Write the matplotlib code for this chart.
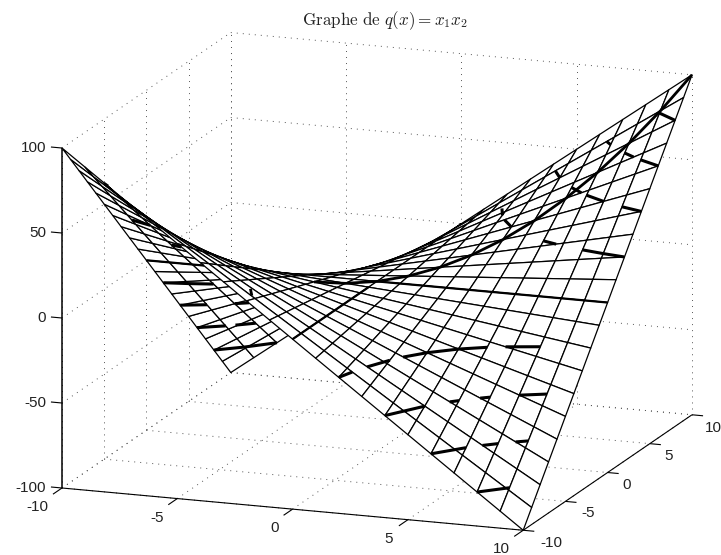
import matplotlib
matplotlib.use('Agg')
import numpy as np
import matplotlib.pyplot as plt
from mpl_toolkits.mplot3d import proj3d

plt.rcParams['font.family'] = ['Liberation Sans', 'DejaVu Sans']
plt.rcParams['mathtext.fontset'] = 'cm'

# mesh nodes
x_vals = [-10, -9, -8, -7, -6, -5, -4, -3, -2, -1, 0, 1, 2, 3, 4, 5, 6, 7, 8, 9, 10]
y_vals = [-10, -9, -8, -7, -6, -5, -4, -3, -2, -1, 0, 1, 2, 3, 4, 5, 6, 7, 8, 9, 10]
z_rows = [
    [100, 90, 80, 70, 60, 50, 40, 30, 20, 10, 0, -10, -20, -30, -40, -50, -60, -70, -80, -90, -100],
    [90, 81, 72, 63, 54, 45, 36, 27, 18, 9, 0, -9, -18, -27, -36, -45, -54, -63, -72, -81, -90],
    [80, 72, 64, 56, 48, 40, 32, 24, 16, 8, 0, -8, -16, -24, -32, -40, -48, -56, -64, -72, -80],
    [70, 63, 56, 49, 42, 35, 28, 21, 14, 7, 0, -7, -14, -21, -28, -35, -42, -49, -56, -63, -70],
    [60, 54, 48, 42, 36, 30, 24, 18, 12, 6, 0, -6, -12, -18, -24, -30, -36, -42, -48, -54, -60],
    [50, 45, 40, 35, 30, 25, 20, 15, 10, 5, 0, -5, -10, -15, -20, -25, -30, -35, -40, -45, -50],
    [40, 36, 32, 28, 24, 20, 16, 12, 8, 4, 0, -4, -8, -12, -16, -20, -24, -28, -32, -36, -40],
    [30, 27, 24, 21, 18, 15, 12, 9, 6, 3, 0, -3, -6, -9, -12, -15, -18, -21, -24, -27, -30],
    [20, 18, 16, 14, 12, 10, 8, 6, 4, 2, 0, -2, -4, -6, -8, -10, -12, -14, -16, -18, -20],
    [10, 9, 8, 7, 6, 5, 4, 3, 2, 1, 0, -1, -2, -3, -4, -5, -6, -7, -8, -9, -10],
    [0, 0, 0, 0, 0, 0, 0, 0, 0, 0, 0, 0, 0, 0, 0, 0, 0, 0, 0, 0, 0],
    [-10, -9, -8, -7, -6, -5, -4, -3, -2, -1, 0, 1, 2, 3, 4, 5, 6, 7, 8, 9, 10],
    [-20, -18, -16, -14, -12, -10, -8, -6, -4, -2, 0, 2, 4, 6, 8, 10, 12, 14, 16, 18, 20],
    [-30, -27, -24, -21, -18, -15, -12, -9, -6, -3, 0, 3, 6, 9, 12, 15, 18, 21, 24, 27, 30],
    [-40, -36, -32, -28, -24, -20, -16, -12, -8, -4, 0, 4, 8, 12, 16, 20, 24, 28, 32, 36, 40],
    [-50, -45, -40, -35, -30, -25, -20, -15, -10, -5, 0, 5, 10, 15, 20, 25, 30, 35, 40, 45, 50],
    [-60, -54, -48, -42, -36, -30, -24, -18, -12, -6, 0, 6, 12, 18, 24, 30, 36, 42, 48, 54, 60],
    [-70, -63, -56, -49, -42, -35, -28, -21, -14, -7, 0, 7, 14, 21, 28, 35, 42, 49, 56, 63, 70],
    [-80, -72, -64, -56, -48, -40, -32, -24, -16, -8, 0, 8, 16, 24, 32, 40, 48, 56, 64, 72, 80],
    [-90, -81, -72, -63, -54, -45, -36, -27, -18, -9, 0, 9, 18, 27, 36, 45, 54, 63, 72, 81, 90],
    [-100, -90, -80, -70, -60, -50, -40, -30, -20, -10, 0, 10, 20, 30, 40, 50, 60, 70, 80, 90, 100],
]

# visible bits of the level curves: (xs, ys, level)
level_pieces = [
    ([8, 9], [-10, -8.89], -80),
    ([-10, -9, -8], [8, 8.89, 10], -80),
    ([6, 7], [-10, -8.57], -60),
    ([7.5, 8], [-8, -7.5], -60),
    ([8.57, 9], [-7, -6.67], -60),
    ([-10, -9], [6, 6.67], -60),
    ([-8.67, -8], [6.92, 7.5], -60),
    ([4, 5], [-10, -8], -40),
    ([5.71, 6], [-7, -6.67], -40),
    ([6.67, 7], [-6, -5.71], -40),
    ([8, 9], [-5, -4.44], -40),
    ([-10, -9], [4, 4.44], -40),
    ([-8, -7.5], [5, 5.33], -40),
    ([2, 2.22], [-10, -9], -20),
    ([2.5, 3], [-8, -6.67], -20),
    ([3.33, 4, 5, 6], [-6, -5, -4, -3.33], -20),
    ([6.67, 8], [-3, -2.5], -20),
    ([-10, -9, -8], [2, 2.22, 2.5], -20),
    ([-8, -7.5], [-2.5, -2.67], 20),
    ([2.6, 3], [7.7, 6.67], 20),
    ([3.33, 4], [6, 5], 20),
    ([6, 6.67], [3.33, 3], 20),
    ([8, 9, 10], [2.5, 2.22, 2], 20),
    ([-9, -8], [-4.44, -5], 40),
    ([4.44, 5], [9, 8], 40),
    ([6, 6.67], [6.67, 6], 40),
    ([7, 8], [5.71, 5], 40),
    ([9, 10], [4.44, 4], 40),
    ([6.67, 7], [9, 8.57], 60),
    ([8, 8.57], [7.5, 7], 60),
    ([9, 10], [6.67, 6], 60),
    ([-8.33, -8], [-9.6, -10], 80),
    ([8.94, 10], [8.94, 8], 80),
]
zero_pieces = [
    ([-10, -7.5], [0, 0]),
    ([0, 10], [0, 0]),
    ([0, 0], [-10, -1]),
]
diag_vals = [-2, -1, 0, 1, 2, 3, 4, 5, 6, 7, 8, 9, 10]
diag_z = [4, 1, 0, 1, 4, 9, 16, 25, 36, 49, 64, 81, 100]
mark_x = [-6.85, -7.12]
mark_y = [3.72, 4.63]
mark_z = [-25.5, -33]

xticks = [-10, -5, 0, 5, 10]
yticks = [-10, -5, 0, 5, 10]
zticks = [-100, -50, 0, 50, 100]

W, H = 721, 555
fig = plt.figure(figsize=(W / 100, H / 100), dpi=100)
ax = fig.add_axes([0, 0, 1, 1], projection='3d', proj_type='ortho')
ax.view_init(elev=14.5, azim=-69.9)
ax.set_box_aspect((1, 1, 0.715))
ax.set_xlim(-10, 10)
ax.set_ylim(-10, 10)
ax.set_zlim(-100, 100)
ax.set_axis_off()
ax.computed_zorder = False


def to2d(x, y, z):
    u, v, _ = proj3d.proj_transform(x, y, z, ax.get_proj())
    return u, v


# put the box where it sits in the picture (pixels: 62,488 and 692,413)
u1, v1 = to2d(-10, -10, -100)
u2, v2 = to2d(10, 10, -100)
xr = ax.viewLim.x1 - ax.viewLim.x0
yr = ax.viewLim.y1 - ax.viewLim.y0
S = (692 - 62) / ((u2 - u1) / xr)
left = 62 - (u1 - ax.viewLim.x0) / xr * S
bottom = (H - 488) - (v1 - ax.viewLim.y0) / yr * S
ax.set_position([left / W, bottom / H, S / W, S / H])

grid_style = dict(color='#555555', lw=0.7, ls=(0, (1, 5.2)), zorder=1)
axis_style = dict(color='black', lw=0.8, zorder=2, solid_capstyle='butt')

# floor and the two back walls
for t in xticks:
    ax.plot([t, t], [-10, 10], [-100, -100], **grid_style)
    ax.plot([t, t], [10, 10], [-100, 100], **grid_style)
for t in yticks:
    ax.plot([-10, 10], [t, t], [-100, -100], **grid_style)
    ax.plot([-10, -10], [t, t], [-100, 100], **grid_style)
for t in zticks:
    ax.plot([-10, 10], [10, 10], [t, t], **grid_style)
    ax.plot([-10, -10], [-10, 10], [t, t], **grid_style)

# axis lines and ticks
ax.plot([-10, -10], [-10, -10], [-100, 100], color='black', lw=1.1, zorder=2, solid_capstyle='butt')
ax.plot([-10, 10], [-10, -10], [-100, -100], **axis_style)
ax.plot([10, 10], [-10, 10], [-100, -100], **axis_style)
for t in xticks:
    ax.plot([t, t], [-10, -11.07], [-100, -100], **axis_style)
for t in yticks:
    ax.plot([10, 10.48], [t, t], [-100, -100], **axis_style)
for t in zticks:
    ax.plot([-10, -10.48], [-10, -10], [t, t], **axis_style)

X, Y = np.meshgrid(x_vals, y_vals)
Z = np.array(z_rows, dtype=float)
ax.plot_surface(X, Y, Z, rstride=1, cstride=1, color='white', edgecolor='black',
                linewidth=0.9, shade=False, zorder=3)

for xs, ys, level in level_pieces:
    ax.plot(xs, ys, [level] * len(xs), color='black', lw=2.2, zorder=4, solid_capstyle='butt')
for xs, ys in zero_pieces:
    ax.plot(xs, ys, [0, 0], color='black', lw=1.6, zorder=4, solid_capstyle='butt')
ax.plot(diag_vals, diag_vals, diag_z, color='black', lw=2.0, zorder=4, solid_capstyle='butt')
ax.plot(mark_x, mark_y, mark_z, color='black', lw=2.0, zorder=4, solid_capstyle='butt')

# tick labels, offsets in pixels from the tick base
x_off = [(-25, -19), (-20, -19), (-17.5, -19), (-19, -19), (-22, -19)]
y_off = [(28, -13), (23, -12), (19.5, -12), (19, -12), (21, -13)]
for t, off in zip(xticks, x_off):
    ax.annotate(str(t), to2d(t, -10, -100), xytext=off, textcoords='offset pixels', fontsize=11,
                color='#222222', ha='center', va='center', annotation_clip=False)
for t, off in zip(yticks, y_off):
    ax.annotate(str(t), to2d(10, t, -100), xytext=off, textcoords='offset pixels', fontsize=11,
                color='#222222', ha='center', va='center', annotation_clip=False)
for t in zticks:
    ax.annotate(str(t), to2d(-10, -10, t), xytext=(-16, 0), textcoords='offset pixels', fontsize=11,
                color='#222222', ha='right', va='center', annotation_clip=False)

fig.text(385 / W, 1 - 21 / H, r'$\mathrm{Graphe\ de}\ q(x) = x_1 x_2$', fontsize=12.3,
         color='#222222', ha='center', va='center')

fig.savefig('out.png', dpi=100)
